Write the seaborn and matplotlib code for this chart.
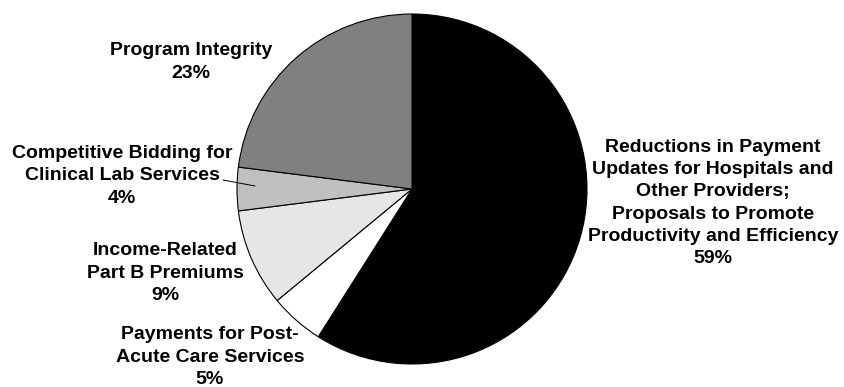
import matplotlib
matplotlib.use("Agg")
import matplotlib.pyplot as plt
import seaborn as sns

# Share of savings by proposal
categories = [
    "Reductions in Payment\nUpdates for Hospitals and\nOther Providers;\nProposals to Promote\nProductivity and Efficiency",
    "Payments for Post-\nAcute Care Services",
    "Income-Related\nPart B Premiums",
    "Competitive Bidding for\nClinical Lab Services",
    "Program Integrity",
]
shares = [59, 5, 9, 4, 23]
colors = ["#000000", "#ffffff", "#e6e6e6", "#c0c0c0", "#808080"]

# label block centres (pixel coordinates, origin top-left)
label_pos = [(713, 203), (210, 357), (165, 273), (122, 176), (191, 62)]

sns.set_theme(style="white")
plt.rcParams["font.family"] = ["Liberation Sans", "DejaVu Sans"]

W, H = 844, 387
fig = plt.figure(figsize=(W / 100, H / 100), dpi=100)
ax = fig.add_axes([0, 0, 1, 1])

cx, cy, r = 412, H - 189, 175
ax.pie(shares, colors=colors, startangle=90, counterclock=False,
       center=(cx, cy), radius=r, frame=True,
       wedgeprops=dict(edgecolor="black", linewidth=0.8))
ax.set_xlim(0, W)
ax.set_ylim(0, H)
ax.set_aspect("equal")
ax.axis("off")

for cat, val, (x, y) in zip(categories, shares, label_pos):
    ax.text(x, H - y, f"{cat}\n{val}%", ha="center", va="center",
            fontsize=14, fontweight="bold", color="black", linespacing=1.39)

# leader line to the small slice
ax.plot([223, 255], [H - 180, H - 186], color="black", linewidth=0.7)

fig.savefig("out.png", dpi=100)
